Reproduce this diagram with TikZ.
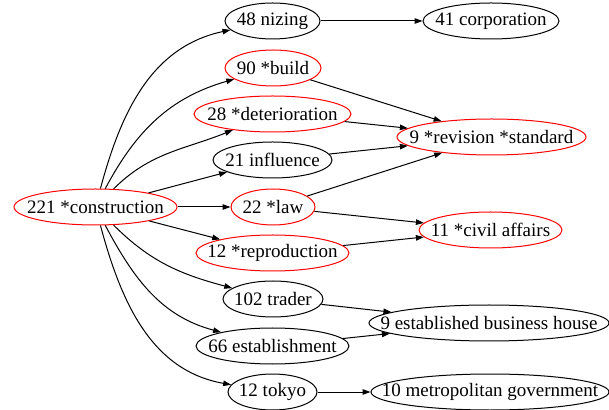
\documentclass[tikz,border=0pt]{standalone}
\usepackage{fontspec}
\setmainfont{Liberation Serif}
\usetikzlibrary{shapes.geometric,arrows.meta}

\begin{document}
\begin{tikzpicture}[x=1pt,y=1pt,line width=1pt,>={Triangle[length=8pt,width=5.5pt]}]
\useasboundingbox (0,0) rectangle (609,409);
\newcommand{\nh}{36pt}
\tikzset{hot/.style={draw=red}}
\begin{scope}[shape=ellipse,minimum height=\nh,inner xsep=-30pt,inner ysep=0pt,font=\rmfamily\fontsize{19}{22}\selectfont]
\tikzstyle{every node}=[draw]
\node[hot,minimum width=163pt] (con) at (95.5,202) {221 *construction};
\node[minimum width=95pt] (niz) at (272.5,388) {48 nizing};
\node[minimum width=136pt] (corp) at (491,388) {41 corporation};
\node[hot,minimum width=96pt] (build) at (273,341) {90 *build};
\node[hot,minimum width=157pt] (det) at (272.5,295) {28 *deterioration};
\node[minimum width=119pt] (inf) at (272.5,249) {21 influence};
\node[hot,minimum width=189pt] (rev) at (491.5,272) {9 *revision *standard};
\node[hot,minimum width=84pt] (law) at (273,202) {22 *law};
\node[hot,minimum width=143pt] (civ) at (490.5,179) {11 *civil affairs};
\node[hot,minimum width=153pt] (rep) at (272.5,156) {12 *reproduction};
\node[minimum width=100pt] (trad) at (273,110) {102 trader};
\node[minimum width=240pt] (biz) at (489,86) {9 established business house};
\node[minimum width=153pt] (estb) at (272.5,63) {66 establishment};
\node[minimum width=89pt] (tok) at (272.5,17) {12 tokyo};
\node[minimum width=238pt] (metro) at (490,17) {10 metropolitan government};
% from the root
\draw [->] (con) to[out=75,in=192] (niz);
\draw [->] (con) to[out=62,in=196] (build);
\draw [->] (con) to[out=45,in=202] (det);
\draw [->] (con) -- (inf);
\draw [->] (con) -- (law);
\draw [->] (con) -- (rep);
\draw [->] (con) to[out=-45,in=165] (trad);
\draw [->] (con) to[out=-62,in=165] (estb);
\draw [->] (con) to[out=-75,in=170] (tok);
% second level
\draw [->] (niz) -- (corp);
\draw [->] (build) -- (rev);
\draw [->] (det) -- (rev);
\draw [->] (inf) -- (rev);
\draw [->] (law) -- (rev);
\draw [->] (law) -- (civ);
\draw [->] (rep) -- (civ);
\draw [->] (trad) -- (biz);
\draw [->] (estb) -- (biz);
\draw [->] (tok) -- (metro);
\end{scope}
\end{tikzpicture}
\end{document}
